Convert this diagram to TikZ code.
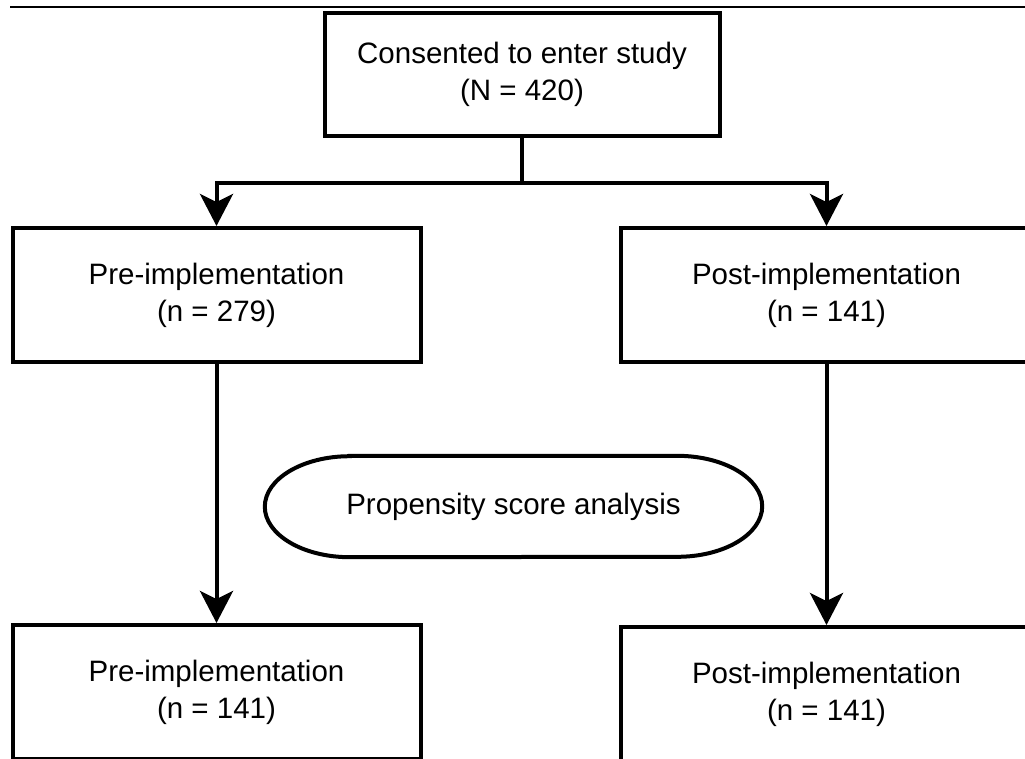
\documentclass[tikz,border=0pt]{standalone}
\usepackage{fontspec}
\setmainfont{Liberation Sans}
\usetikzlibrary{arrows.meta,calc}
\begin{document}
\begin{tikzpicture}[x=1pt,y=-1pt,
  box/.style={draw, line width=4pt, rectangle, minimum height=134pt, align=center,
    inner sep=0pt, font=\fontsize{29.5}{37}\selectfont},
  conn/.style={line width=4pt, -{Stealth[length=32pt,width=33pt,inset=8pt]}},
  plain/.style={line width=4pt},
  lbl/.style={inner sep=0pt, font=\fontsize{29.5}{37}\selectfont}
]
\useasboundingbox (0,0) rectangle (1025,758);
\clip (0,0) rectangle (1025,758);
\fill[white] (0,0) rectangle (1025,758);

\draw[line width=1.5pt] (10,7) -- (1025,7);

\node[box, minimum width=395pt, minimum height=123pt] (top) at (522,74.5) {Consented to enter study\\(N = 420)};
\node[box, minimum width=408pt] (preA) at (216.5,295) {Pre-implementation\\(n = 279)};
\node[box, minimum width=412pt] (postA) at (826.5,295) {Post-implementation\\(n = 141)};
\node[box, minimum width=408pt] (preB) at (216.5,692) {Pre-implementation\\(n = 141)};
\node[box, minimum width=412pt] (postB) at (826.5,694) {Post-implementation\\(n = 141)};

\node[lbl, minimum width=497pt, minimum height=101pt] (psa) at (513.5,506.5) {Propensity score analysis};
\draw[plain] ($(psa.north west)+(85,0)$) -- ($(psa.north east)+(-85,0)$)
  arc[start angle=90, end angle=-90, x radius=85pt, y radius=50.5pt]
  -- ($(psa.south west)+(85,0)$)
  arc[start angle=270, end angle=90, x radius=85pt, y radius=50.5pt] -- cycle;

\coordinate (j) at (522,183);
\draw[plain] (top.south) -- (j);
\draw[conn] (j) -| (preA.north);
\draw[conn] (j) -| (postA.north);
\draw[conn] (preA.south) -- (preB.north);
\draw[conn] (postA.south) -- (postB.north);
\end{tikzpicture}
\end{document}
